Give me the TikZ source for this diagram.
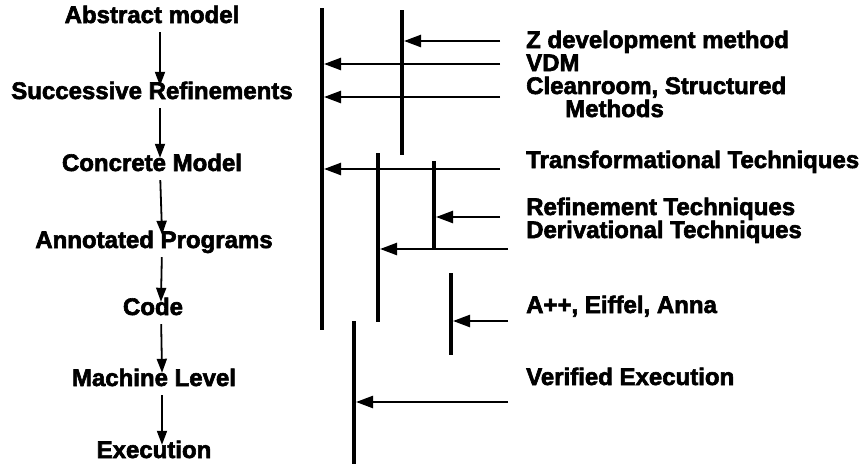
\documentclass[tikz,border=0pt]{standalone}
\usepackage{fontspec}
\setmainfont{Liberation Sans}[BoldFeatures={FakeBold=2.5}]
\usetikzlibrary{arrows.meta}

\begin{document}
\begin{tikzpicture}[x=1pt,y=-1pt,
  lbl/.style={font=\fontsize{24}{26}\selectfont\bfseries, inner sep=0pt,
              text height=16pt, text depth=0pt},
  stage/.style={lbl, anchor=base},
  tech/.style={lbl, anchor=base west},
  flow/.style={-{Triangle[length=14pt,width=10pt]}, line width=1.8pt,
               shorten <=9pt, shorten >=-3pt},
  bar/.style={line width=4.8pt},
  feed/.style={-{Triangle[length=17pt,width=12pt]}, line width=2.4pt,
               shorten >=2pt}]
\useasboundingbox (0,0) rectangle (865,464);

% development stages, top to bottom
\node[stage] (abs)   at (152,23)  {Abstract model};
\node[stage] (succ)  at (152,99)  {Successive Refinements};
\node[stage] (conc)  at (152,171) {Concrete Model};
\node[stage] (annot) at (154,248) {Annotated Programs};
\node[stage] (code)  at (153,315) {Code};
\node[stage] (mach)  at (154,386) {Machine Level};
\node[stage] (exec)  at (154,458) {Execution};

\foreach \a/\b in {abs/succ, succ/conc, conc/annot, annot/code, code/mach, mach/exec}
  \draw[flow] ([xshift=8pt]\a.south) -- ([xshift=8pt]\b.north);

% coverage bars
\coordinate (aT) at (322,8);   \coordinate (aB) at (322,330);
\coordinate (bT) at (402,10);  \coordinate (bB) at (402,155);
\coordinate (cT) at (378,153); \coordinate (cB) at (378,322);
\coordinate (dT) at (434,161); \coordinate (dB) at (434,249);
\coordinate (eT) at (451,273); \coordinate (eB) at (451,355);
\coordinate (fT) at (354,321); \coordinate (fB) at (354,464);
\foreach \t/\b in {aT/aB, bT/bB, cT/cB, dT/dB, eT/eB, fT/fB}
  \draw[bar] (\t) -- (\b);

% techniques
\node[tech] (z)     at (526,48)  {Z development method};
\node[tech] (vdm)   at (526,71)  {VDM};
\node[tech] (clean) at (526,94)  {Cleanroom, Structured};
\node[tech] (meth)  at (565,117) {Methods};
\node[tech] (trans) at (526,168) {Transformational Techniques};
\node[tech] (refi)  at (526,215) {Refinement Techniques};
\node[tech] (deri)  at (526,238) {Derivational Techniques};
\node[tech] (app)   at (526,313) {A++, Eiffel, Anna};
\node[tech] (veri)  at (526,385) {Verified Execution};

% arrow tails on the right
\coordinate (zR)  at (500,41);
\coordinate (vR)  at (500,64);
\coordinate (cR)  at (500,97);
\coordinate (tR)  at (500,169);
\coordinate (rR)  at (500,217);
\coordinate (dR)  at (508,249);
\coordinate (pR)  at (508,321);
\coordinate (xR)  at (508,402);

\draw[feed] (zR) -- (zR -| bT);
\draw[feed] (vR) -- (vR -| aT);
\draw[feed] (cR) -- (cR -| aT);
\draw[feed] (tR) -- (tR -| aT);
\draw[feed] (rR) -- (rR -| dT);
\draw[feed] (dR) -- (dR -| cT);
\draw[feed] (pR) -- (pR -| eT);
\draw[feed] (xR) -- (xR -| fT);
\end{tikzpicture}
\end{document}
